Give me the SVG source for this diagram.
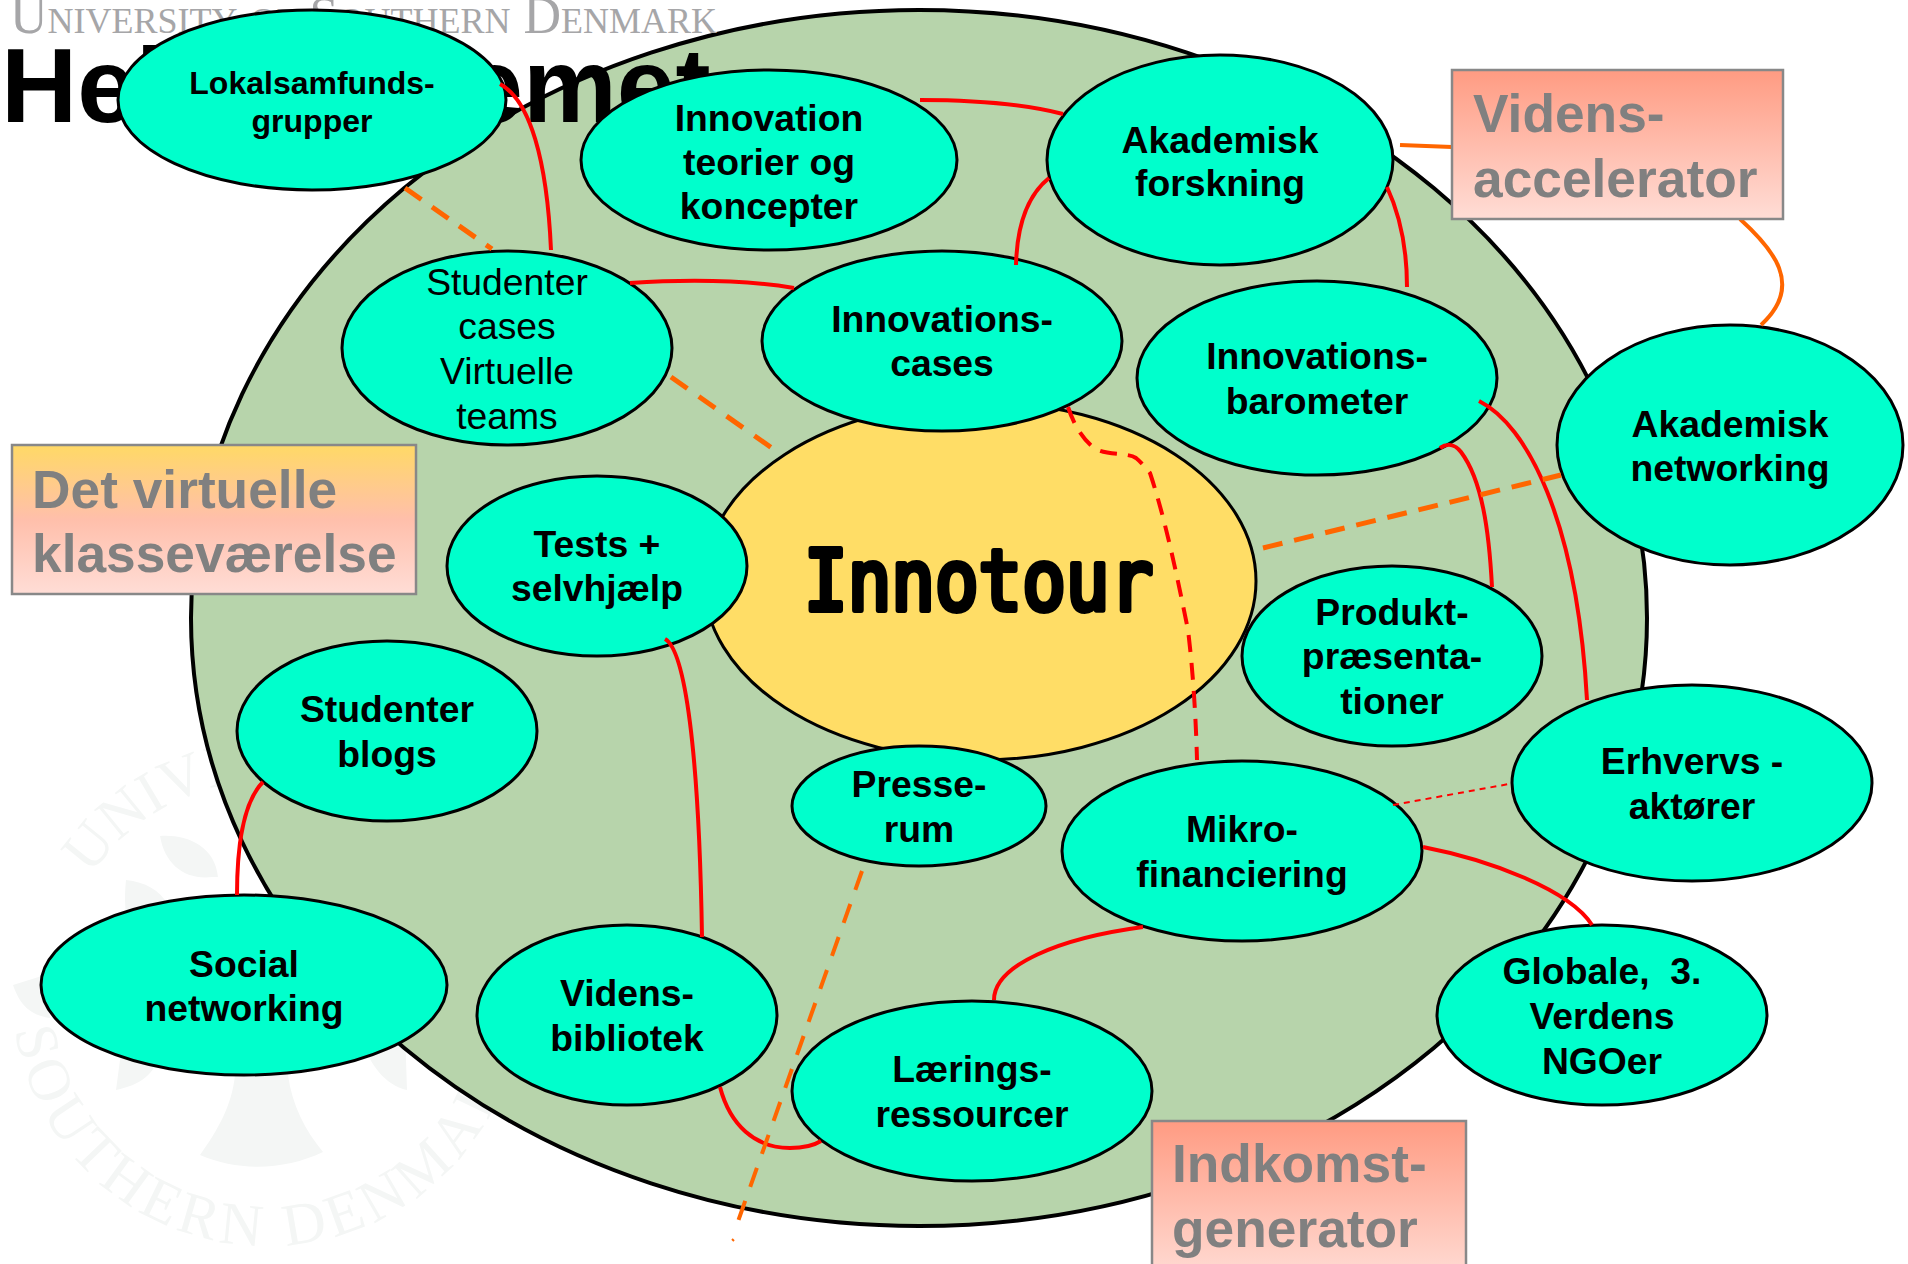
<svg xmlns="http://www.w3.org/2000/svg" width="1908" height="1264" viewBox="0 0 1908 1264">
<style>
.n{fill:#00FFCC;stroke:#000;stroke-width:3}
.t{font-family:"Liberation Sans",Arial,sans-serif;font-weight:700;font-size:37.3px;fill:#000;text-anchor:middle}
.r{font-weight:400}
.b{stroke:#888;stroke-width:2.5}
.bt{font-family:"Liberation Sans",Arial,sans-serif;font-weight:700;font-size:53.3px;fill:#808080}
.c{fill:none}
.red{stroke:#FF0000;stroke-width:4}
.or{stroke:#FF6600;stroke-width:5}
.seal{fill:#F4F6F5;font-family:"Liberation Serif",serif;font-size:60px}
</style>
<defs>
<linearGradient id="gr" x1="0" y1="0" x2="0" y2="1"><stop offset="0" stop-color="#FF9B82"/><stop offset="1" stop-color="#FFDDD6"/></linearGradient>
<linearGradient id="gy" x1="0" y1="0" x2="0" y2="1"><stop offset="0" stop-color="#FFD966"/><stop offset=".5" stop-color="#FFBFAB"/><stop offset="1" stop-color="#FFDDD6"/></linearGradient>
<path id="arcTop" d="M91 876A210 210 0 0 1 477 990"/>
<path id="arcBot" d="M15 1030A255 255 0 0 0 507 1077"/>
</defs>
<rect width="1908" height="1264" fill="#fff"/>
<g id="seal">
<text class="seal"><textPath href="#arcTop">UNIVERSITY OF</textPath></text>
<text class="seal" letter-spacing="5"><textPath href="#arcBot">SOUTHERN DENMARK</textPath></text>
<path class="seal" d="M160 836C185 834 215 845 218 877L212 877C185 880 165 865 160 836ZM126 880C145 882 160 890 168 905L130 935C125 915 124 900 126 880ZM13 985L45 975L50 1018C30 1015 20 1005 13 985ZM116 1090L122 1045L162 1050C155 1075 140 1085 116 1090ZM235 1075H288C292 1105 305 1130 323 1152C285 1170 240 1172 200 1155C218 1130 232 1105 235 1075ZM362 1040L405 1030L407 1090C385 1085 370 1065 362 1040Z"/>
</g>
<ellipse id="field" cx="919" cy="618" rx="728" ry="608" fill="#B7D4AB" stroke="#000" stroke-width="4"/>
<text id="uni" x="10" y="33" font-family="Liberation Serif,serif" font-size="52" fill="#A6A6A8" style="font-variant:small-caps" textLength="707" lengthAdjust="spacingAndGlyphs">University of Southern Denmark</text>
<text id="title" x="1" y="122" font-family="Liberation Sans,Arial,sans-serif" font-weight="700" font-size="105.5" fill="#000">Hele systemet</text>

<g id="innotour"><ellipse cx="980" cy="581" rx="276" ry="179" fill="#FFDD66" stroke="#000" stroke-width="3"/>
<text x="804" y="610" font-family="DejaVu Sans Mono,monospace" font-size="84" fill="#000" stroke="#000" stroke-width="6" stroke-linejoin="round" textLength="349" lengthAdjust="spacingAndGlyphs">Innotour</text></g>
<g id="lokal"><ellipse class="n" cx="312" cy="100" rx="194" ry="90"/><text class="t" style="font-size:32px"><tspan x="312" y="94">Lokalsamfunds-</tspan><tspan x="312" y="132">grupper</tspan></text></g>
<g id="teorier"><ellipse class="n" cx="769" cy="160" rx="188" ry="90"/><text class="t"><tspan x="769" y="131">Innovation</tspan><tspan x="769" y="175">teorier og</tspan><tspan x="769" y="219">koncepter</tspan></text></g>
<g id="forskning"><ellipse class="n" cx="1220" cy="160" rx="173" ry="105"/><text class="t"><tspan x="1220" y="153">Akademisk</tspan><tspan x="1220" y="196">forskning</tspan></text></g>
<g id="studcases"><ellipse class="n" cx="507" cy="348" rx="165" ry="97"/><text class="t r"><tspan x="507" y="295">Studenter</tspan><tspan x="507" y="339">cases</tspan><tspan x="507" y="384">Virtuelle</tspan><tspan x="507" y="429">teams</tspan></text></g>
<g id="cases"><ellipse class="n" cx="942" cy="341" rx="180" ry="90"/><text class="t"><tspan x="942" y="332">Innovations-</tspan><tspan x="942" y="376">cases</tspan></text></g>
<g id="barometer"><ellipse class="n" cx="1317" cy="378" rx="180" ry="97"/><text class="t"><tspan x="1317" y="369">Innovations-</tspan><tspan x="1317" y="414">barometer</tspan></text></g>
<g id="aknet"><ellipse class="n" cx="1730" cy="445" rx="173" ry="120"/><text class="t"><tspan x="1730" y="437">Akademisk</tspan><tspan x="1730" y="481">networking</tspan></text></g>
<g id="tests"><ellipse class="n" cx="597" cy="566" rx="150" ry="90"/><text class="t"><tspan x="597" y="557">Tests +</tspan><tspan x="597" y="601">selvhjælp</tspan></text></g>
<g id="blogs"><ellipse class="n" cx="387" cy="731" rx="150" ry="90"/><text class="t"><tspan x="387" y="722">Studenter</tspan><tspan x="387" y="767">blogs</tspan></text></g>
<g id="produkt"><ellipse class="n" cx="1392" cy="656" rx="150" ry="90"/><text class="t"><tspan x="1392" y="625">Produkt-</tspan><tspan x="1392" y="669">præsenta-</tspan><tspan x="1392" y="714">tioner</tspan></text></g>
<g id="presse"><ellipse class="n" cx="919" cy="806" rx="127" ry="60"/><text class="t"><tspan x="919" y="797">Presse-</tspan><tspan x="919" y="842">rum</tspan></text></g>
<g id="mikro"><ellipse class="n" cx="1242" cy="851" rx="180" ry="90"/><text class="t"><tspan x="1242" y="842">Mikro-</tspan><tspan x="1242" y="887">financiering</tspan></text></g>
<g id="erhverv"><ellipse class="n" cx="1692" cy="783" rx="180" ry="98"/><text class="t"><tspan x="1692" y="774">Erhvervs -</tspan><tspan x="1692" y="819">aktører</tspan></text></g>
<g id="social"><ellipse class="n" cx="244" cy="985" rx="203" ry="90"/><text class="t"><tspan x="244" y="977">Social</tspan><tspan x="244" y="1021">networking</tspan></text></g>
<g id="bibliotek"><ellipse class="n" cx="627" cy="1015" rx="150" ry="90"/><text class="t"><tspan x="627" y="1006">Videns-</tspan><tspan x="627" y="1051">bibliotek</tspan></text></g>
<g id="laering"><ellipse class="n" cx="972" cy="1091" rx="180" ry="90"/><text class="t"><tspan x="972" y="1082">Lærings-</tspan><tspan x="972" y="1127">ressourcer</tspan></text></g>
<g id="globale"><ellipse class="n" cx="1602" cy="1015" rx="165" ry="90"/><text class="t"><tspan x="1602" y="984">Globale,&#160; 3.</tspan><tspan x="1602" y="1029">Verdens</tspan><tspan x="1602" y="1074">NGOer</tspan></text></g>

<g id="connectors" class="c">
<path class="red" d="M500 84C530 100 547 160 551 250"/>
<path class="red" d="M920 100C970 100 1020 103 1063 114"/>
<path class="red" d="M1049 178C1028 195 1017 225 1016 265"/>
<path class="red" d="M1387 187C1400 215 1407 250 1407 287"/>
<path class="red" d="M630 283C690 279 745 280 794 288"/>
<path class="red" stroke-dasharray="17 11" d="M1068 407C1074 425 1082 438 1094 448C1107 456 1127 452 1136 458C1142 463 1146 468 1150 473C1164 515 1176 570 1188 630C1193 670 1196 720 1197 760"/>
<path class="red" d="M1440 448C1447 443 1455 444 1461 452C1482 480 1489 530 1492 587"/>
<path class="red" d="M1479 401C1527 425 1577 520 1587 700"/>
<path class="red" style="stroke-width:2" stroke-dasharray="6 5" d="M1393 805L1509 784"/>
<path class="red" d="M1423 847C1490 860 1570 890 1592 925"/>
<path class="red" d="M1143 927C1060 938 994 965 994 1000"/>
<path class="red" d="M720 1087C730 1125 755 1148 790 1148C803 1148 813 1146 821 1141"/>
<path class="red" d="M665 639C685 650 699 750 702 937"/>
<path class="red" d="M263 782C245 800 237 840 237 895"/>
<path class="or" stroke-dasharray="20 13" d="M405 188L492 249"/>
<path class="or" stroke-dasharray="20 14" d="M671 377L779 453"/>
<path class="or" stroke-dasharray="20 12" d="M1263 548L1561 475"/>
<path class="or" style="stroke-width:4" d="M1400 145L1452 147"/>
<path class="or" style="stroke-width:4" d="M1740 219C1772 248 1805 285 1761 325"/>
<path class="or" style="stroke-width:4" stroke-dasharray="20 15" d="M862 871L736 1227"/>
<path class="or" style="stroke-width:2" d="M732 1239L734 1241"/>
</g>

<g id="box-viden"><rect class="b" x="1452" y="70" width="331" height="149" fill="url(#gr)"/><text class="bt"><tspan x="1473" y="132">Videns-</tspan><tspan x="1473" y="197">accelerator</tspan></text></g>
<g id="box-virtuel"><rect class="b" x="12" y="445" width="404" height="149" fill="url(#gy)"/><text class="bt"><tspan x="32" y="508">Det virtuelle</tspan><tspan x="32" y="572">klasseværelse</tspan></text></g>
<g id="box-indkomst"><rect class="b" x="1152" y="1121" width="314" height="160" fill="url(#gr)"/><text class="bt"><tspan x="1172" y="1182">Indkomst-</tspan><tspan x="1172" y="1247">generator</tspan></text></g>
</svg>
